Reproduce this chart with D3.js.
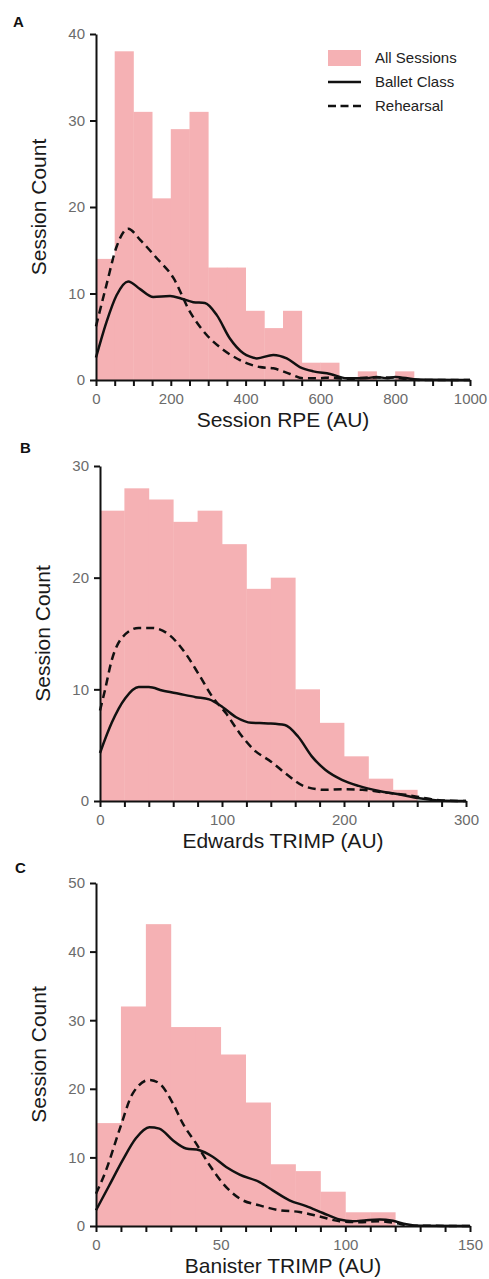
<!DOCTYPE html>
<html>
<head>
<meta charset="utf-8">
<script src="https://cdn.jsdelivr.net/npm/d3@7"></script>
<style>
  body { margin: 0; background: #fff; }
  text { font-family: "Liberation Sans", Arial, sans-serif; }
</style>
</head>
<body>
<div id="chart"></div>
<script>
// Chart size
var svgWidth = 489;
var svgHeight = 1279;

// Panel A - Session RPE, bins of 50
var rpeBinStarts = [0, 50, 100, 150, 200, 250, 300, 350, 400, 450, 500, 550, 600, 650, 700, 750, 800, 850, 900, 950];
var rpeCounts = [14, 38, 31, 21, 29, 31, 13, 13, 8, 6, 8, 2, 2, 0, 1, 0, 1, 0, 0, 0];
var rpeBallet = [[0, 2.6], [28, 6.7], [55, 9.8], [86, 11.4], [118, 10.5], [153, 9.6], [198, 9.7], [229, 9.4],
  [260, 9.0], [291, 8.9], [323, 7.5], [358, 4.8], [394, 3.1], [412, 2.7], [430, 2.5], [474, 2.9], [510, 2.5],
  [545, 1.5], [581, 1.0], [626, 0.7], [670, 0.2], [720, 0.2], [750, 0.35], [780, 0.2], [800, 0.35], [850, 0.1],
  [900, 0.03], [1000, 0]];
var rpeRehearsal = [[0, 6.2], [28, 11], [55, 15.4], [86, 17.5], [118, 16.2], [162, 14.1], [207, 11.8], [251, 7.9],
  [296, 5.2], [340, 3.5], [385, 2.3], [412, 1.8], [438, 1.5], [474, 1.35], [519, 0.7], [554, 0.2], [600, 0.2],
  [626, 0.3], [670, 0.1], [733, 0.3], [786, 0.3], [830, 0.1], [880, 0], [1000, 0]];
var rpeTicks = [0, 50, 100, 150, 200, 250, 300, 350, 400, 450, 500, 550, 600, 650, 700, 750, 800, 850, 900, 950, 1000];
var rpeLabels = [0, 200, 400, 600, 800, 1000];
var rpeYTicks = [0, 10, 20, 30, 40];

// Panel B - Edwards TRIMP, bins of 20
var edwBinStarts = [0, 20, 40, 60, 80, 100, 120, 140, 160, 180, 200, 220, 240, 260, 280];
var edwCounts = [26, 28, 27, 25, 26, 23, 19, 20, 10, 7, 4, 2, 1, 0, 0];
var edwBallet = [[0, 4.3], [9.6, 7.0], [20.7, 9.2], [31.7, 10.2], [40, 10.2], [51, 9.9], [64.7, 9.6], [78.5, 9.3],
  [89.5, 9.1], [100.6, 8.4], [111.6, 7.5], [124, 7.0], [137.8, 6.95], [151.5, 6.8], [162.5, 5.75], [173.6, 4.0],
  [184.6, 2.8], [198.3, 1.9], [212, 1.35], [228.7, 0.9], [245, 0.6], [261.7, 0.25], [278, 0.05], [300, 0]];
var edwRehearsal = [[0, 8.1], [4, 9.9], [9.6, 12.6], [17.9, 14.6], [31.7, 15.5], [42.7, 15.5], [56.5, 14.9],
  [70.2, 13.2], [81.2, 11.3], [92.3, 9.3], [103.3, 7.85], [114.3, 6.1], [126, 4.6], [140.5, 3.5], [154, 2.3],
  [168, 1.3], [184.6, 1.0], [198.3, 1.05], [215, 1.0], [234, 0.75], [250.7, 0.55], [267, 0.25], [280, 0.05], [300, 0]];
var edwTicks = [0, 20, 40, 60, 80, 100, 120, 140, 160, 180, 200, 220, 240, 260, 280, 300];
var edwLabels = [0, 100, 200, 300];
var edwYTicks = [0, 10, 20, 30];

// Panel C - Banister TRIMP, bins of 10
var banBinStarts = [0, 10, 20, 30, 40, 50, 60, 70, 80, 90, 100, 110, 120, 130, 140];
var banCounts = [15, 32, 44, 29, 29, 25, 18, 9, 8, 5, 2, 2, 0, 0, 0];
var banBallet = [[0, 2.3], [5.3, 5.9], [10.7, 9.6], [16, 12.8], [21.4, 14.4], [25.4, 14.2], [30.8, 12.5],
  [36.1, 11.3], [41.5, 11.05], [46.8, 10.1], [52.2, 8.6], [57.6, 7.5], [65.6, 6.4], [70.9, 5.2], [77.6, 3.75],
  [84.3, 2.9], [91, 1.9], [97.7, 0.95], [103, 0.7], [108.4, 0.85], [113.8, 0.95], [119.1, 0.75], [124.5, 0.25],
  [130, 0.02], [150, 0]];
var banRehearsal = [[0, 4.7], [4, 8.1], [9.4, 14], [14.7, 19.3], [21.4, 21.3], [25.4, 20.8], [30.8, 17.9],
  [34.8, 14.95], [40.2, 12], [45.5, 8.9], [50.9, 6.2], [57.6, 4.0], [65.6, 3.0], [73.6, 2.3], [81.6, 2.05],
  [89.6, 1.4], [97.7, 0.7], [105.7, 0.55], [113.8, 0.7], [120.4, 0.4], [126, 0.05], [150, 0]];
var banTicks = [0, 10, 20, 30, 40, 50, 60, 70, 80, 90, 100, 110, 120, 130, 140, 150];
var banLabels = [0, 50, 100, 150];
var banYTicks = [0, 10, 20, 30, 40, 50];

var legendNames = ["All Sessions", "Ballet Class", "Rehearsal"];

var barColor = "#f5b1b4";

// panel frames (pixel boxes) + data hookup
var panels = [
  { letter: "A", title: "Session RPE (AU)", bins: rpeBinStarts, binWidth: 50, counts: rpeCounts,
    ballet: rpeBallet, rehearsal: rpeRehearsal, xTicks: rpeTicks, xLabels: rpeLabels, yTicks: rpeYTicks,
    xMax: 1000, yMax: 40, left: 96, right: 470, top: 34, bottom: 380, letterX: 13, letterY: 27, legend: true },
  { letter: "B", title: "Edwards TRIMP (AU)", bins: edwBinStarts, binWidth: 20, counts: edwCounts,
    ballet: edwBallet, rehearsal: edwRehearsal, xTicks: edwTicks, xLabels: edwLabels, yTicks: edwYTicks,
    xMax: 300, yMax: 30, left: 100, right: 466, top: 466, bottom: 801, letterX: 20, letterY: 453, legend: false },
  { letter: "C", title: "Banister TRIMP (AU)", bins: banBinStarts, binWidth: 10, counts: banCounts,
    ballet: banBallet, rehearsal: banRehearsal, xTicks: banTicks, xLabels: banLabels, yTicks: banYTicks,
    xMax: 150, yMax: 50, left: 96, right: 470, top: 883, bottom: 1226, letterX: 15, letterY: 873, legend: false }
];

//Create SVG container
var svg = d3.select("#chart")
  .append("svg")
  .attr("width", svgWidth)
  .attr("height", svgHeight);

panels.forEach(function(p) {
  var g = svg.append("g");

  var x = d3.scaleLinear().domain([0, p.xMax]).range([p.left, p.right]);
  var y = d3.scaleLinear().domain([0, p.yMax]).range([p.bottom, p.top]);

  // histogram bars
  g.selectAll("rect.bar")
    .data(p.counts)
    .enter()
    .append("rect")
    .attr("class", "bar")
    .attr("x", (d, i) => x(p.bins[i]))
    .attr("width", (d, i) => x(p.bins[i] + p.binWidth) - x(p.bins[i]) + 0.4)
    .attr("y", d => y(d))
    .attr("height", d => y(0) - y(d))
    .attr("fill", barColor);

  // density lines
  var line = d3.line()
    .x(d => x(d[0]))
    .y(d => y(d[1]))
    .curve(d3.curveMonotoneX);

  g.append("path")
    .attr("d", line(p.rehearsal))
    .attr("fill", "none")
    .attr("stroke", "#111")
    .attr("stroke-width", 2.5)
    .attr("stroke-dasharray", "8,5");

  g.append("path")
    .attr("d", line(p.ballet))
    .attr("fill", "none")
    .attr("stroke", "#111")
    .attr("stroke-width", 2.5);

  // axes
  var bottomAxis = d3.axisBottom(x)
    .tickValues(p.xTicks)
    .tickSize(6)
    .tickSizeOuter(0)
    .tickPadding(7)
    .tickFormat(d => p.xLabels.indexOf(d) >= 0 ? d : "");

  var leftAxis = d3.axisLeft(y)
    .tickValues(p.yTicks)
    .tickSize(6)
    .tickSizeOuter(0)
    .tickPadding(5);

  var xg = g.append("g")
    .attr("transform", `translate(0, ${p.bottom})`)
    .call(bottomAxis);

  var yg = g.append("g")
    .attr("transform", `translate(${p.left}, 0)`)
    .call(leftAxis);

  [xg, yg].forEach(function(a) {
    a.select(".domain").attr("stroke", "#111").attr("stroke-width", 2);
    a.selectAll(".tick line").attr("stroke", "#111").attr("stroke-width", 2);
    a.selectAll(".tick text")
      .attr("fill", "#6b6b6b")
      .style("font-size", "15px")
      .style("font-family", "\"Liberation Sans\", Arial, sans-serif");
  });

  // axis labels
  g.append("text")
    .attr("x", (p.left + p.right) / 2)
    .attr("y", p.bottom + 47)
    .attr("text-anchor", "middle")
    .attr("fill", "#1a1a1a")
    .style("font-size", "21px")
    .text(p.title);

  g.append("text")
    .attr("transform", `translate(${p.left - 50}, ${(p.top + p.bottom) / 2}) rotate(-90)`)
    .attr("text-anchor", "middle")
    .attr("fill", "#1a1a1a")
    .style("font-size", "21px")
    .text("Session Count");

  // panel letter
  g.append("text")
    .attr("x", p.letterX)
    .attr("y", p.letterY)
    .attr("fill", "#111")
    .style("font-size", "15px")
    .style("font-weight", "bold")
    .text(p.letter);

  if (p.legend) {
    var lg = g.append("g").attr("transform", "translate(328, 58)");
    lg.append("rect")
      .attr("x", 0).attr("y", -8)
      .attr("width", 33).attr("height", 16)
      .attr("fill", barColor);
    lg.append("line")
      .attr("x1", 0).attr("x2", 33).attr("y1", 24).attr("y2", 24)
      .attr("stroke", "#111").attr("stroke-width", 2.5);
    lg.append("line")
      .attr("x1", 0).attr("x2", 33).attr("y1", 48).attr("y2", 48)
      .attr("stroke", "#111").attr("stroke-width", 2.5)
      .attr("stroke-dasharray", "8,4.5");
    lg.selectAll("text.leg")
      .data(legendNames)
      .enter()
      .append("text")
      .attr("class", "leg")
      .attr("x", 47)
      .attr("y", (d, i) => i * 24)
      .attr("dy", "0.36em")
      .attr("fill", "#222")
      .style("font-size", "15px")
      .text(d => d);
  }
});
</script>
</body>
</html>
